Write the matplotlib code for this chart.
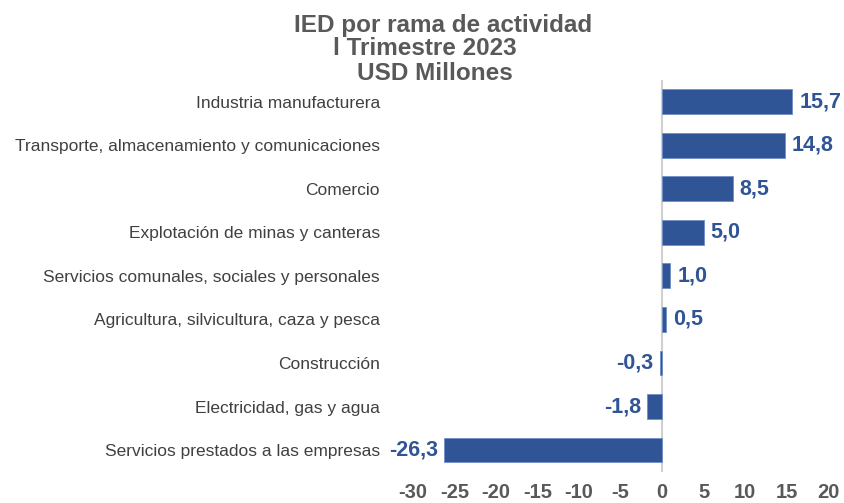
import matplotlib
matplotlib.use("Agg")
import matplotlib.pyplot as plt

plt.rcParams['font.family'] = ['Liberation Sans', 'DejaVu Sans']

# ramas de actividad, de arriba hacia abajo
ramas = [
    "Industria manufacturera",
    "Transporte, almacenamiento y comunicaciones",
    "Comercio",
    "Explotación de minas y canteras",
    "Servicios comunales, sociales y personales",
    "Agricultura, silvicultura, caza y pesca",
    "Construcción",
    "Electricidad, gas y agua",
    "Servicios prestados a las empresas",
]
valores = [15.7, 14.8, 8.5, 5.0, 1.0, 0.5, -0.3, -1.8, -26.3]
ticks = [-30, -25, -20, -15, -10, -5, 0, 5, 10, 15, 20]

azul = "#2F5597"
gris = "#595959"

fig = plt.figure(figsize=(8.45, 5.03), dpi=100)
ax = fig.add_axes([0.489, 0.062, 0.491, 0.779])

pos = list(range(len(ramas)))
ax.barh(pos, valores, height=0.57, color=azul, edgecolor="#6F8FC7", linewidth=0.6, zorder=2)
ax.set_ylim(len(ramas) - 0.5, -0.5)
ax.set_xlim(-30, 20)

ax.axvline(0, color="#D0D0D0", linewidth=1.5, zorder=1)

for y, v in zip(pos, valores):
    txt = f"{v:.1f}".replace(".", ",")
    if v >= 0:
        ax.annotate(txt, (v, y), xytext=(5, 0), textcoords="offset points",
                    ha="left", va="center", color=azul, fontsize=15.5, fontweight="bold")
    else:
        ax.annotate(txt, (v, y), xytext=(-4.5, 0), textcoords="offset points",
                    ha="right", va="center", color=azul, fontsize=15.5, fontweight="bold")

ax.set_yticks(pos)
ax.set_yticklabels(ramas, fontsize=12.5, color="#404040")
ax.set_xticks(ticks)
ax.set_xticklabels([str(t) for t in ticks], fontsize=14.5, fontweight="bold", color=gris)
ax.tick_params(axis="y", length=0, pad=24)
ax.tick_params(axis="x", length=0, pad=8)
for s in ax.spines.values():
    s.set_visible(False)

fig.text(0.524, 0.950, "IED por rama de actividad", ha="center", va="center",
         fontsize=17.5, fontweight="bold", color=gris)
fig.text(0.503, 0.904, "l Trimestre 2023", ha="center", va="center",
         fontsize=17.5, fontweight="bold", color=gris)
fig.text(0.515, 0.854, "USD Millones", ha="center", va="center",
         fontsize=17.5, fontweight="bold", color=gris)

fig.savefig("out.png", dpi=100)
